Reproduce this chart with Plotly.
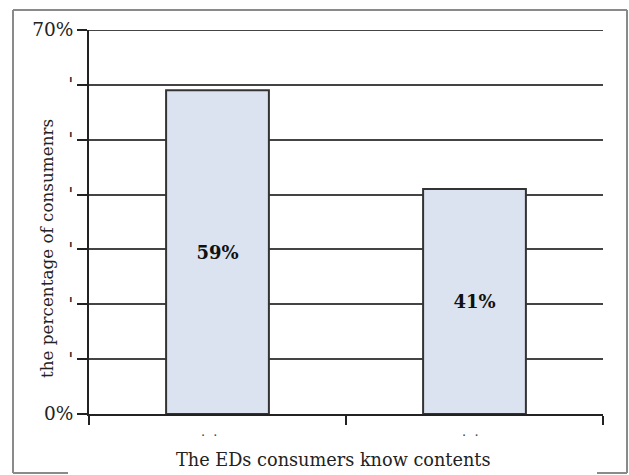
import plotly.graph_objects as go

# Survey results: share of consumers by answer
categories = ["Yes", "No"]
shares = [59, 41]
tick_values = [0, 10, 20, 30, 40, 50, 60, 70]
tick_labels = ["0%", "'", "'", "'", "'", "'", "'", "70%"]
category_labels = [".\u00a0\u00a0.\u00a0\u00a0\u00a0\u00a0", ".\u00a0\u00a0.\u00a0\u00a0"]
x_title = "The EDs consumers know contents"
y_title = "the percentage of consumenrs"

W, H = 629, 475
L, R, T, B = 89, 26, 30, 61
pw, ph = W - L - R, H - T - B

def px_x(x):
    return (x - L) / pw

def px_y(y):
    return (H - B - y) / ph

serif = "DejaVu Serif"

fig = go.Figure(
    go.Bar(
        x=categories,
        y=shares,
        marker=dict(color="#dae3ef", line=dict(color="#333333", width=2)),
        texttemplate="<b>%{y}%</b>",
        textposition="inside",
        insidetextanchor="middle",
        textfont=dict(family=serif, size=18, color="#111111"),
        hoverinfo="skip",
    )
)

# outer frame around the chart area
frame = dict(type="line", xref="paper", yref="paper",
             line=dict(color="#8a8a8a", width=2))
shapes = [
    dict(frame, x0=px_x(13), x1=px_x(13), y0=px_y(10), y1=px_y(473)),
    dict(frame, x0=px_x(13), x1=px_x(627), y0=px_y(10), y1=px_y(10)),
    dict(frame, x0=px_x(627), x1=px_x(627), y0=px_y(10), y1=px_y(473)),
    dict(frame, x0=px_x(13), x1=px_x(68), y0=px_y(473), y1=px_y(473)),
    dict(frame, x0=px_x(597), x1=px_x(627), y0=px_y(473), y1=px_y(473)),
    # top gridline at 70%
    dict(type="line", xref="paper", yref="y", x0=0, x1=1, y0=70, y1=70,
         line=dict(color="#444444", width=2), layer="below"),
]

annotations = [
    dict(text=x_title, xref="paper", yref="paper", x=px_x(333), y=px_y(460),
         showarrow=False, xanchor="center", yanchor="middle",
         font=dict(family=serif, size=17.7, color="#222222")),
    dict(text=y_title, xref="paper", yref="paper", x=px_x(47), y=px_y(249),
         showarrow=False, xanchor="center", yanchor="middle", textangle=-90,
         font=dict(family=serif, size=16.8, color="#222222")),
]

fig.update_layout(
    width=W,
    height=H,
    margin=dict(l=L, r=R, t=T, b=B),
    paper_bgcolor="white",
    plot_bgcolor="white",
    bargap=0.6,
    showlegend=False,
    shapes=shapes,
    annotations=annotations,
    font=dict(family=serif, color="#222222"),
    xaxis=dict(
        automargin=False,
        tickmode="array",
        tickvals=categories,
        ticktext=category_labels,
        tickson="boundaries",
        ticks="outside",
        ticklen=9,
        tickwidth=2,
        tickcolor="#222222",
        ticklabelstandoff=4,
        showline=True,
        linecolor="#222222",
        linewidth=2,
        showgrid=False,
        tickfont=dict(family=serif, size=13, color="#444444"),
    ),
    yaxis=dict(
        automargin=False,
        range=[0, 70],
        tickmode="array",
        tickvals=tick_values,
        ticktext=tick_labels,
        ticks="outside",
        ticklen=10,
        tickwidth=2,
        tickcolor="#222222",
        showline=True,
        linecolor="#222222",
        linewidth=2,
        showgrid=True,
        gridcolor="#444444",
        gridwidth=2,
        zeroline=False,
        tickfont=dict(family=serif, size=18.5, color="#222222"),
    ),
)

fig.write_html("out.html")
